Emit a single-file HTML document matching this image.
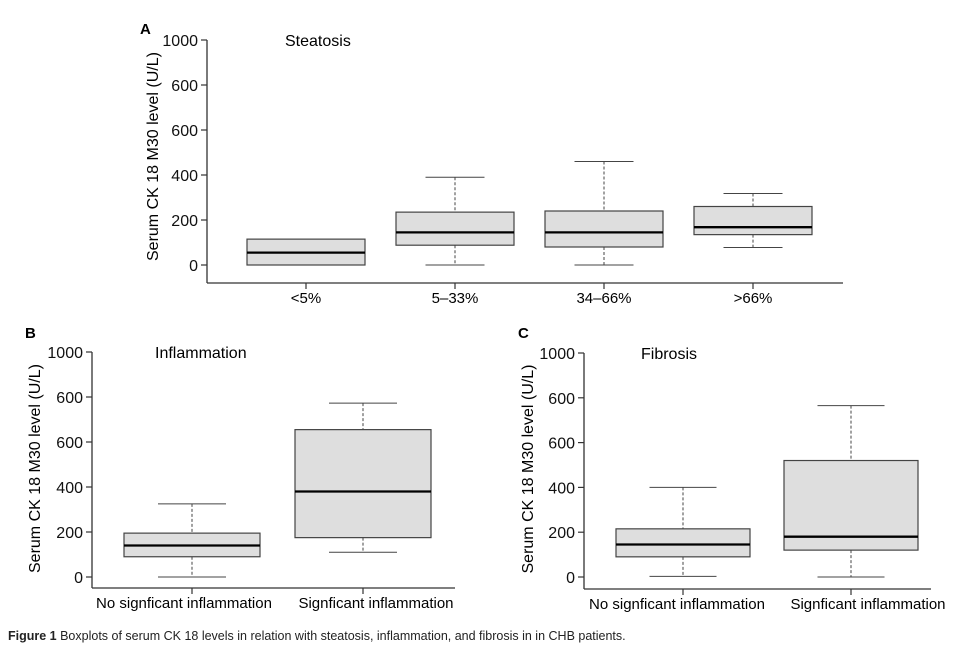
<!DOCTYPE html>
<html><head><meta charset="utf-8"><style>
body{margin:0;background:#fff;width:955px;height:649px;overflow:hidden}
svg{font-family:"Liberation Sans",Arial,sans-serif}
</style></head><body>
<svg id="s" width="955" height="649" viewBox="0 0 955 649">
<text x="8" y="640" font-size="12.5" fill="#222"><tspan font-weight="bold">Figure 1</tspan> Boxplots of serum CK 18 levels in relation with steatosis, inflammation, and fibrosis in in CHB patients.</text>
</svg>
<script>
const tickVals=[0,200,400,600,800,1000];
const tickLabels=["0","200","400","600","600","1000"];
const catsA=["<5%","5–33%","34–66%",">66%"];
const loA=[0,0,0,78], q1A=[0,88,80,135], medA=[55,145,145,168], q3A=[115,235,240,260], hiA=[0,390,460,318];
const catsB=["No signficant inflammation","Signficant inflammation"];
const loB=[0,110], q1B=[90,175], medB=[140,380], q3B=[195,655], hiB=[325,773];
const catsC=["No signficant inflammation","Signficant inflammation"];
const loC=[3,0], q1C=[90,120], medC=[145,180], q3C=[215,520], hiC=[400,765];

const svg=document.getElementById('s');
const NS='http://www.w3.org/2000/svg';
function mk(tag,attrs,parent){const e=document.createElementNS(NS,tag);for(const k in attrs)e.setAttribute(k,attrs[k]);(parent||svg).appendChild(e);return e;}

function panel(p){
  const g=mk('g',{});
  
  
  const y=v=>p.y0-(v/1000)*(p.y0-p.y1000);
  const x=i=>p.c0+i*p.step;
  const L=mk('text',{x:p.lx,y:p.ly,'font-size':15,'font-weight':'bold'},g);L.textContent=p.letter;
  
  
  const T=mk('text',{x:p.tx,y:y(1000)+6,'font-size':16},g);T.textContent=p.title;
  
  
  const ax=mk('line',{x1:p.ax,y1:y(1000),x2:p.ax,y2:p.axisY,stroke:'#333','stroke-width':1.3},g);
  
  
  tickVals.forEach((v,i)=>{
    mk('line',{x1:p.ax-6,y1:y(v),x2:p.ax,y2:y(v),stroke:'#333','stroke-width':1.2},g);
    const t=mk('text',{x:p.ax-9,y:y(v)+6,'font-size':16,'text-anchor':'end',fill:'#111'},g);t.textContent=tickLabels[i];
    
    
  });
  const yt=mk('text',{x:0,y:0,'font-size':16,'text-anchor':'middle',transform:`translate(${p.ytx},${(y(0)+y(1000))/2+4}) rotate(-90)`},g);
  yt.textContent='Serum CK 18 M30 level (U/L)';
  
  
  const xa=mk('line',{x1:p.ax,y1:p.axisY,x2:p.axEnd,y2:p.axisY,stroke:'#333','stroke-width':1.3},g);
  
  
  p.cats.forEach((c,i)=>{
    const cx=x(i),hw=p.bw/2;
    const dx=p.ldx?p.ldx[i]:0;
    mk('line',{x1:cx,y1:p.axisY,x2:cx,y2:p.axisY+6,stroke:'#333','stroke-width':1.2},g);
    const lt=mk('text',{x:cx+dx,y:p.axisY+20,'font-size':15,'text-anchor':'middle'},g);lt.textContent=c;
    
    
    const bg=mk('g',{},g);
    
    
    if(p.hi[i]>p.q3[i]){
      mk('line',{x1:cx,y1:y(p.hi[i]),x2:cx,y2:y(p.q3[i]),stroke:'#444','stroke-dasharray':'3,2'},bg);
      mk('line',{x1:cx-hw*0.5,y1:y(p.hi[i]),x2:cx+hw*0.5,y2:y(p.hi[i]),stroke:'#444'},bg);
    }
    if(p.lo[i]<p.q1[i]){
      mk('line',{x1:cx,y1:y(p.q1[i]),x2:cx,y2:y(p.lo[i]),stroke:'#444','stroke-dasharray':'3,2'},bg);
      mk('line',{x1:cx-hw*0.5,y1:y(p.lo[i]),x2:cx+hw*0.5,y2:y(p.lo[i]),stroke:'#444'},bg);
    }
    mk('rect',{x:cx-hw,y:y(p.q3[i]),width:p.bw,height:y(p.q1[i])-y(p.q3[i]),fill:'#dedede',stroke:'#444','stroke-width':1.2},bg);
    mk('line',{x1:cx-hw,y1:y(p.med[i]),x2:cx+hw,y2:y(p.med[i]),stroke:'#000','stroke-width':2.3},bg);
  });
}
panel({name:'panel-a-steatosis',letter:'A',lx:140,ly:34,title:'Steatosis',tx:285,ax:207,y0:265,y1000:40,axisY:283,axEnd:843,c0:306,step:149,bw:118,ytx:158,cats:catsA,lo:loA,q1:q1A,med:medA,q3:q3A,hi:hiA});
panel({name:'panel-b-inflammation',letter:'B',lx:25,ly:338,title:'Inflammation',tx:155,ax:92,y0:577,y1000:352,axisY:588,axEnd:455,c0:192,step:171,bw:136,ytx:40,ldx:[-8,13],cats:catsB,lo:loB,q1:q1B,med:medB,q3:q3B,hi:hiB});
panel({name:'panel-c-fibrosis',letter:'C',lx:518,ly:338,title:'Fibrosis',tx:641,ax:584,y0:577,y1000:353,axisY:589,axEnd:931,c0:683,step:168,bw:134,ytx:533,ldx:[-6,17],cats:catsC,lo:loC,q1:q1C,med:medC,q3:q3C,hi:hiC});
</script>
</body></html>
